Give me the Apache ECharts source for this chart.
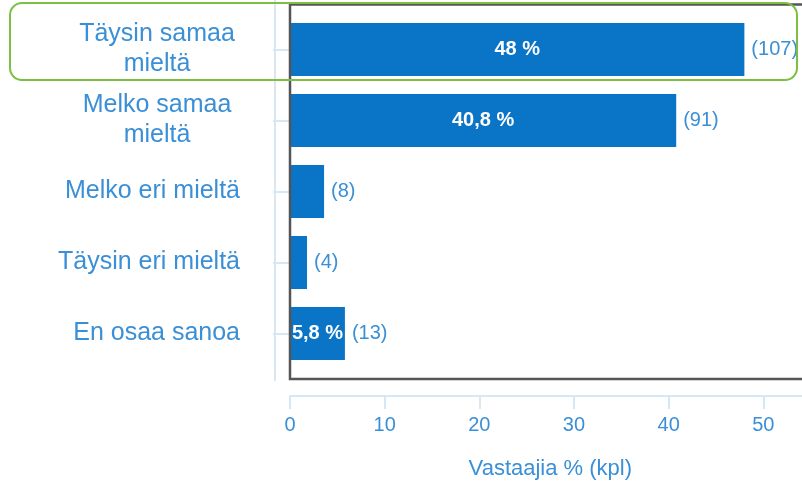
<!DOCTYPE html>
<html>
<head>
<meta charset="utf-8">
<script src="https://cdn.jsdelivr.net/npm/echarts@6/dist/echarts.min.js"></script>
<style>
  html, body { margin: 0; padding: 0; background: #ffffff; }
  #chart { width: 802px; height: 487px; }
</style>
</head>
<body>
<div id="chart"></div>
<script>
// Response categories, top to bottom
const categories = ['Täysin samaa\nmieltä', 'Melko samaa\nmieltä', 'Melko eri mieltä', 'Täysin eri mieltä', 'En osaa sanoa'];
// Share of respondents (%)
const percents = [48, 40.8, 3.6, 1.8, 5.8];
// Number of respondents
const counts = [107, 91, 8, 4, 13];
// Value axis ticks
const xTicks = [0, 10, 20, 30, 40, 50];

const FONT = "'Liberation Sans', Arial, sans-serif";
const BLUE_TEXT = '#3a8fd6';
const BAR_BLUE = '#0a74c6';
const AXIS_BLUE = '#d7e7f4';

const chart = echarts.init(document.getElementById('chart'), null, { renderer: 'canvas' });

const X_MAX = 55;
const GRID_LEFT = 290, GRID_TOP = 14, GRID_H = 355;
const GRID_W = 9.466 * X_MAX;

chart.setOption({
  animation: false,
  backgroundColor: '#ffffff',
  grid: {
    left: GRID_LEFT, top: GRID_TOP, width: GRID_W, height: GRID_H,
    containLabel: false,
    outerBoundsMode: 'none'
  },
  xAxis: {
    type: 'value',
    min: xTicks[0],
    max: X_MAX,
    interval: xTicks[1] - xTicks[0],
    offset: 27,
    name: 'Vastaajia % (kpl)',
    nameLocation: 'middle',
    nameGap: 62,
    nameTextStyle: { color: BLUE_TEXT, fontSize: 22, fontFamily: FONT },
    axisLine: { show: true, lineStyle: { color: AXIS_BLUE, width: 2 } },
    axisTick: { show: true, length: 13, lineStyle: { color: AXIS_BLUE, width: 2 } },
    axisLabel: {
      color: BLUE_TEXT, fontSize: 20, fontFamily: FONT, margin: 19,
      showMaxLabel: false,
      formatter: v => (xTicks.indexOf(v) >= 0 ? String(v) : '')
    },
    splitLine: { show: false }
  },
  yAxis: {
    type: 'category',
    data: categories,
    inverse: true,
    offset: 15,
    axisLine: { show: false },
    axisTick: { show: true, alignWithLabel: true, length: 17, lineStyle: { color: AXIS_BLUE, width: 2 } },
    axisLabel: {
      color: BLUE_TEXT, fontSize: 25, lineHeight: 30, fontFamily: FONT, margin: 35,
      formatter: v => v.indexOf('\n') >= 0
        ? v.split('\n').map(s => '{c|' + s + '}').join('\n')
        : v,
      rich: {
        c: { width: 166, align: 'center', color: BLUE_TEXT, fontSize: 25, lineHeight: 30, fontFamily: FONT }
      }
    }
  },
  series: [
    {
      type: 'bar',
      data: percents,
      barWidth: 53,
      itemStyle: { color: BAR_BLUE },
      label: {
        show: true,
        position: 'inside',
        color: '#ffffff',
        fontWeight: 'bold',
        fontSize: 20,
        fontFamily: FONT,
        formatter: p => (p.value >= 5 ? String(p.value).replace('.', ',') + ' %' : '')
      },
      z: 2
    },
    {
      type: 'bar',
      data: percents,
      barWidth: 53,
      barGap: '-100%',
      silent: true,
      itemStyle: { color: 'rgba(0,0,0,0)' },
      label: {
        show: true,
        position: 'right',
        distance: 7,
        color: BLUE_TEXT,
        fontSize: 20,
        fontFamily: FONT,
        formatter: p => '(' + counts[p.dataIndex] + ')'
      },
      z: 3
    }
  ],
  graphic: [
    // vertical rule of the category axis
    {
      type: 'line', z: 1,
      shape: { x1: 275, y1: 0, x2: 275, y2: 381 },
      style: { stroke: AXIS_BLUE, lineWidth: 2 }
    },
    // framed plot area
    {
      type: 'rect', z: 10, silent: true,
      shape: { x: 290, y: 4.5, width: 560, height: 374.5 },
      style: { fill: 'none', stroke: '#555555', lineWidth: 2.5 }
    },
    // highlighted first row
    {
      type: 'rect', z: 11, silent: true,
      shape: { x: 10, y: 3, width: 787, height: 77, r: 12 },
      style: { fill: 'none', stroke: '#7cc043', lineWidth: 2 }
    }
  ]
});
</script>
</body>
</html>
